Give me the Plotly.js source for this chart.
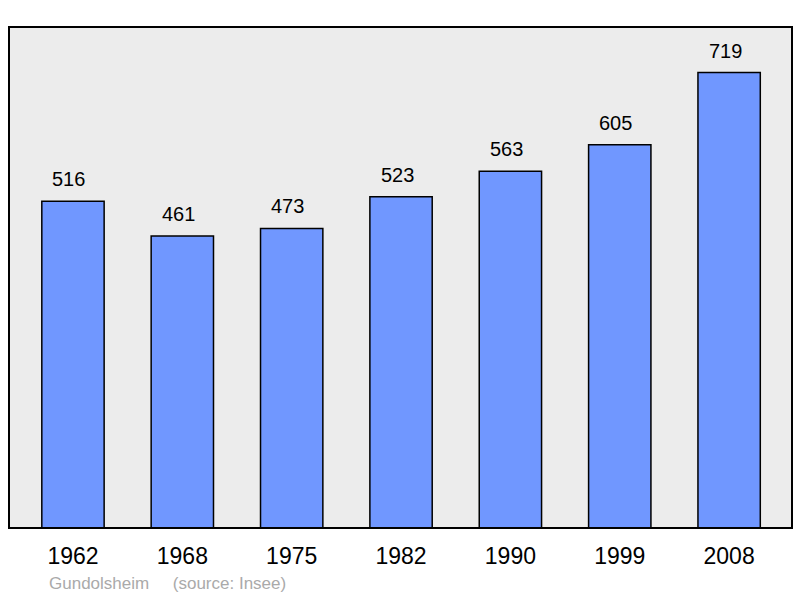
<!DOCTYPE html>
<html><head><meta charset="utf-8">
<script src="https://cdn.plot.ly/plotly-3.0.1.min.js"></script>
<style>body{margin:0;padding:0;background:#fff}</style>
</head><body>
<div id="chart" style="width:800px;height:598px"></div>
<script>
var years = ["1962","1968","1975","1982","1990","1999","2008"];
var population = [516,461,473,523,563,605,719];
var sourceText = "Gundolsheim     (source: Insee)";

var trace = {
  type: "bar",
  x: years,
  y: population,
  width: 0.57,
  marker: {color: "#7097ff", line: {color: "#000", width: 1.5}},
  hoverinfo: "x+y"
};
var ymax = Math.max.apply(null, population) * 1.1;
var annotations = years.map(function(yr, i){
  return {x: i, y: population[i], xref: "x", yref: "y", text: String(population[i]),
    showarrow: false, yanchor: "bottom", yshift: 9, xshift: -4,
    font: {family: "Liberation Sans, Arial, sans-serif", size: 20, color: "#000"}};
});
annotations.push({xref: "paper", yref: "paper", x: 0.048, y: -0.088, xanchor: "left", yanchor: "top",
  text: sourceText.replace(/ /g, "&nbsp;"), showarrow: false,
  font: {family: "Liberation Sans, Arial, sans-serif", size: 17, color: "#aaaaaa"}});
var layout = {
  width: 800, height: 598,
  margin: {l: 9, r: 8, t: 27, b: 70},
  paper_bgcolor: "#ffffff",
  plot_bgcolor: "#ececec",
  showlegend: false,
  xaxis: {type: "category", range: [-0.585, 6.575], showgrid: false, zeroline: false, showline: false,
    ticks: "", ticklabelstandoff: 12,
    tickfont: {family: "Liberation Sans, Arial, sans-serif", size: 23, color: "#000"}},
  yaxis: {range: [0, ymax], showgrid: false, zeroline: false, showline: false, showticklabels: false, ticks: ""},
  annotations: annotations,
  shapes: [{type: "rect", xref: "paper", yref: "paper", x0: 0, x1: 1, y0: 0, y1: 1,
    line: {color: "#000", width: 2}, fillcolor: "rgba(0,0,0,0)", layer: "above"}]
};
Plotly.newPlot("chart", [trace], layout, {displayModeBar: false, staticPlot: true});
</script>
</body></html>
